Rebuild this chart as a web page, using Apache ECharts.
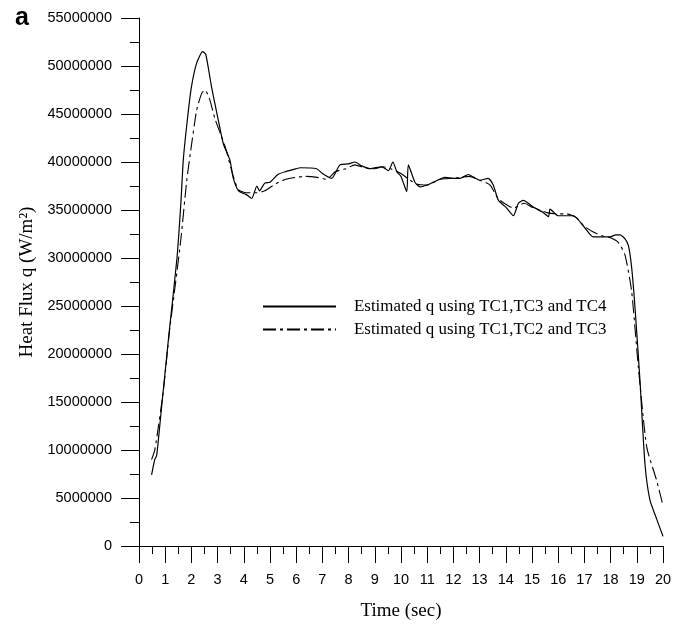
<!DOCTYPE html>
<html>
<head>
<meta charset="utf-8">
<script src="https://cdn.jsdelivr.net/npm/echarts@6/dist/echarts.min.js"></script>
<style>
html, body { margin: 0; padding: 0; background: #fff; }
#chart { width: 685px; height: 626px; }
</style>
</head>
<body>
<div id="chart"></div>
<script>
// time (sec) and heat flux (millions of W/m2)
var timeA = [0.48, 0.6, 0.67, 0.73, 0.9, 1.16, 1.45, 1.6, 1.69, 1.85, 2.0, 2.2, 2.43, 2.55, 2.77, 3.03, 3.22, 3.47, 3.6, 3.8,
    4.1, 4.3, 4.5, 4.6, 4.8, 5.0, 5.3, 5.6, 6.0, 6.15, 6.78, 7.0, 7.35, 7.67, 8.0, 8.24, 8.5, 8.82, 9.0, 9.27,
    9.52, 9.69, 9.84, 10.0, 10.22, 10.28, 10.53, 10.73, 11.0, 11.24, 11.68, 12.0, 12.25, 12.57, 13.0, 13.33, 13.52, 13.72, 14.0, 14.29,
    14.48, 14.67, 15.05, 15.4, 15.63, 15.69, 16.0, 16.58, 17.0, 17.34, 17.7, 17.98, 18.2, 18.36, 18.55, 18.68, 18.8, 18.93, 19.12, 19.31,
    19.5, 19.76, 20.0];
var fluxA = [7.4, 9.0, 9.4, 10.8, 15.5, 22.5, 30, 35.8, 40.2, 44.5, 47.8, 50.3, 51.5, 51.2, 47.8, 44.3, 41.9, 40.2, 38.3, 37.0,
    36.6, 36.2, 37.5, 37.0, 37.8, 37.9, 38.7, 39.0, 39.3, 39.4, 39.3, 38.8, 38.3, 39.7, 39.8, 40.0, 39.6, 39.3, 39.4, 39.5,
    39.1, 40.0, 39.0, 38.5, 36.9, 39.7, 37.9, 37.4, 37.6, 37.9, 38.4, 38.3, 38.3, 38.7, 38.1, 38.3, 37.6, 36.0, 35.3, 34.4,
    35.7, 36.0, 35.3, 34.8, 34.3, 35.1, 34.4, 34.4, 33.2, 32.2, 32.2, 32.2, 32.4, 32.4, 32.0, 31.3, 29.1, 24.9, 17.3, 8.6,
    4.8, 2.8, 1.0];

var timeB = [0.48, 0.61, 0.93, 1.16, 1.4, 1.6, 1.82, 1.96, 2.2, 2.4, 2.52, 2.7, 2.9, 3.1, 3.3, 3.6, 3.8, 4.1, 4.5, 4.8,
    5.2, 5.6, 6.0, 6.34, 6.8, 7.16, 7.5, 7.9, 8.24, 8.6, 9.0, 9.3, 9.6, 10.0, 10.3, 10.6, 11.0, 11.5, 12.0, 12.6,
    13.0, 13.4, 13.7, 14.0, 14.3, 14.7, 15.0, 15.6, 16.0, 16.33, 16.7, 17.0, 17.34, 17.7, 18.0, 18.3, 18.55, 18.8, 19.06, 19.38,
    19.76, 20.0];
var fluxB = [9.0, 10.1, 16.2, 22.3, 27.5, 32, 38.0, 40.9, 45.4, 47.2, 47.5, 46.5, 44.5, 43.0, 41.5, 38.5, 37.1, 36.8, 36.8, 37.0,
    37.7, 38.2, 38.4, 38.5, 38.4, 38.2, 39.0, 39.3, 39.7, 39.4, 39.3, 39.5, 39.3, 38.8, 38.2, 37.7, 37.6, 38.2, 38.3, 38.5,
    38.1, 37.6, 36.2, 35.6, 35.2, 35.7, 35.3, 34.7, 34.6, 34.6, 34.2, 33.3, 32.7, 32.3, 32.1, 31.6, 30.3, 26.6, 18.6, 10.3,
    6.8, 4.2];

var seriesNames = ['Estimated q using TC1,TC3 and TC4', 'Estimated q using TC1,TC2 and TC3'];

function pairs(t, v) {
    var out = [];
    for (var i = 0; i < t.length; i++) {
        out.push([t[i], v[i] * 1000000]);
    }
    return out;
}

var serif = '"Liberation Serif", "Times New Roman", serif';
var sans = '"Liberation Sans", Arial, sans-serif';

var myChart = echarts.init(document.getElementById('chart'));
myChart.setOption({
    animation: false,
    backgroundColor: '#fff',
    grid: { left: 139, right: 22, top: 18, bottom: 80 },
    graphic: [{
        type: 'text',
        left: 15,
        top: 6,
        style: { text: 'a', font: 'bold 25px ' + sans, fill: '#000' }
    }],
    legend: {
        orient: 'vertical',
        left: 257,
        top: 293,
        itemWidth: 73,
        itemHeight: 10,
        itemGap: 6,
        itemStyle: { opacity: 0 },
        textStyle: { fontFamily: serif, fontSize: 16.9, color: '#000', padding: [0, 0, 0, 13] },
        data: seriesNames
    },
    xAxis: {
        type: 'value',
        min: 0,
        max: 20,
        interval: 1,
        name: 'Time (sec)',
        nameLocation: 'middle',
        nameGap: 56,
        nameTextStyle: { fontFamily: serif, fontSize: 19, color: '#000' },
        axisLine: { onZero: false, lineStyle: { color: '#000', width: 1 } },
        axisTick: { length: 17, lineStyle: { color: '#000' } },
        minorTick: { show: true, splitNumber: 2, length: 8, lineStyle: { color: '#000' } },
        axisLabel: { margin: 26, fontFamily: sans, fontSize: 14.5, color: '#000' },
        splitLine: { show: false }
    },
    yAxis: {
        type: 'value',
        min: 0,
        max: 55000000,
        interval: 5000000,
        name: 'Heat Flux q (W/m\u00b2)',
        nameLocation: 'middle',
        nameGap: 96,
        nameTextStyle: { fontFamily: serif, fontSize: 19, color: '#000' },
        axisLine: { show: true, lineStyle: { color: '#000', width: 1 } },
        axisTick: { show: true, length: 18, lineStyle: { color: '#000' } },
        minorTick: { show: true, splitNumber: 2, length: 9, lineStyle: { color: '#000' } },
        axisLabel: {
            margin: 27, fontFamily: sans, fontSize: 14.5, color: '#000',
            formatter: function (val) { return String(val); }
        },
        splitLine: { show: false }
    },
    series: [{
        name: seriesNames[0],
        type: 'line',
        symbol: 'none',
        smooth: 0.2,
        data: pairs(timeA, fluxA),
        itemStyle: { color: '#000' },
        lineStyle: { color: '#000', width: 1.2 }
    }, {
        name: seriesNames[1],
        type: 'line',
        symbol: 'none',
        smooth: 0.2,
        data: pairs(timeB, fluxB),
        itemStyle: { color: '#000' },
        lineStyle: { color: '#000', width: 1.1, type: [13, 4, 3, 4] }
    }]
});
</script>
</body>
</html>
